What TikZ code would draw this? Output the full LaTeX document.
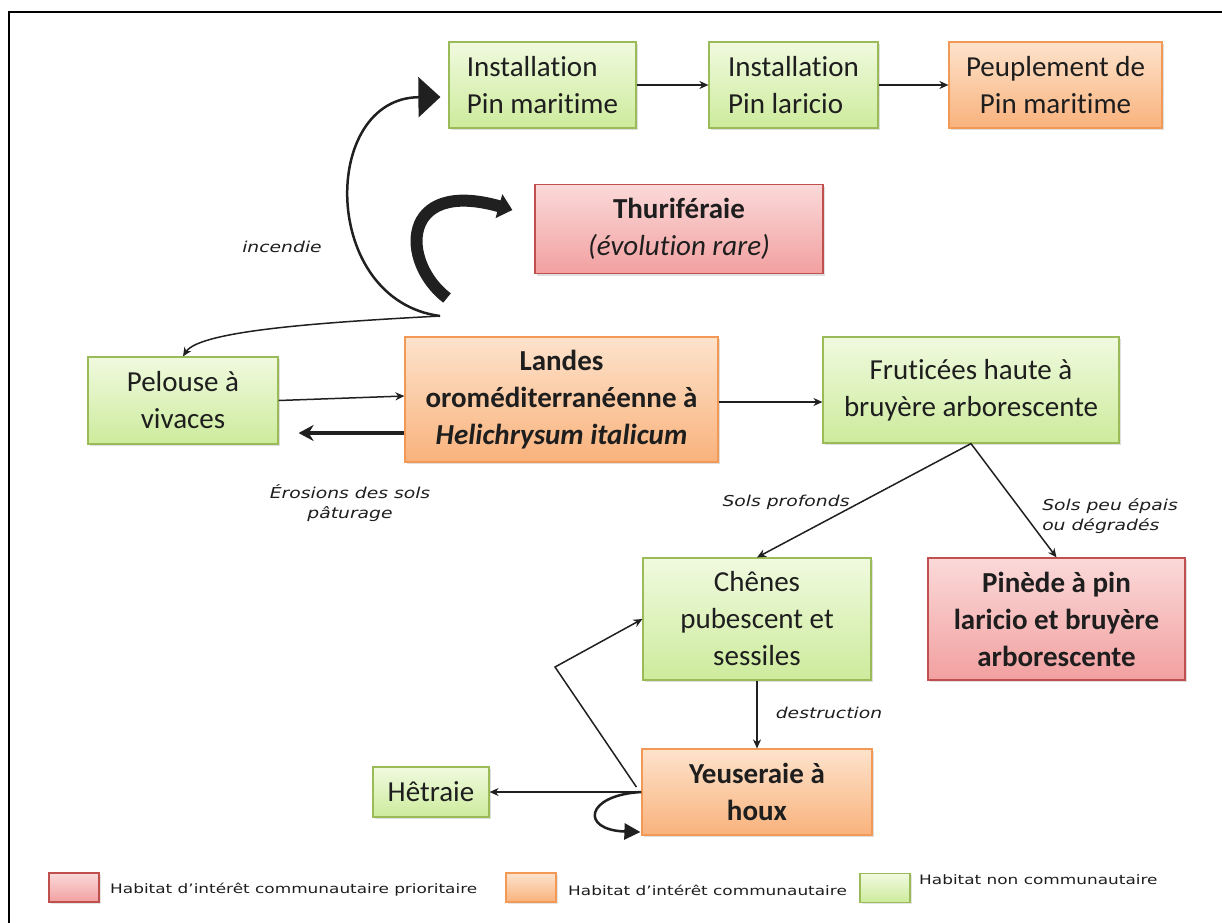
\documentclass[tikz,border=0pt]{standalone}
\usepackage{fontspec}
\setmainfont{Carlito}[Ligatures={NoCommon,NoRare,NoContextual}]
\newfontfamily\lblfont{DejaVu Sans}[FakeStretch=1.25]
\newfontfamily\legfont{DejaVu Sans}[FakeStretch=1.3]
\usetikzlibrary{arrows.meta,shadows,calc}
\definecolor{txt}{HTML}{1E1E1E}
\definecolor{gtop}{HTML}{F0FADF}
\definecolor{gbot}{HTML}{CDEB9C}
\definecolor{gbord}{HTML}{9BBB59}
\definecolor{otop}{HTML}{FDE3CC}
\definecolor{obot}{HTML}{F9B27C}
\definecolor{obord}{HTML}{F29A55}
\definecolor{rtop}{HTML}{FBD9D9}
\definecolor{rbot}{HTML}{F2A0A0}
\definecolor{rbord}{HTML}{C0504D}
\definecolor{arrc}{HTML}{202020}
\tikzset{
  box/.style={draw, line width=1.2pt, inner sep=4pt, text=txt, align=center,
    font=\fontsize{29}{37}\selectfont,
    drop shadow={opacity=0.25, shadow xshift=2pt, shadow yshift=-2pt}},
  gbox/.style={box, draw=gbord, top color=gtop, bottom color=gbot},
  obox/.style={box, draw=obord, top color=otop, bottom color=obot},
  rbox/.style={box, draw=rbord, top color=rtop, bottom color=rbot},
  arr/.style={draw=arrc, line width=1.5pt, -{Stealth[length=9pt,width=8pt]}},
  lbl/.style={font=\lblfont\itshape\fontsize{15}{20}\selectfont, text=txt, inner sep=0pt},
  leg/.style={font=\legfont\fontsize{13}{16}\selectfont, text=txt, inner sep=0pt, anchor=west},
  swatch/.style={minimum width=50pt, minimum height=29pt, inner sep=0pt, line width=1.5pt,
    drop shadow={opacity=0.2, shadow xshift=1.5pt, shadow yshift=-1.5pt}}
}
\begin{document}
\begin{tikzpicture}[x=1pt,y=-1pt]
\useasboundingbox (0,0) rectangle (1222,922);
\fill[white] (0,0) rectangle (1222,922);
\draw[line width=2pt] (9,925) -- (9,12) -- (1225,12);

% boxes
\node[gbox, align=left, minimum width=187pt, minimum height=86pt] (b1) at (542.5,85) {Installation\\Pin maritime};
\node[gbox, align=left, minimum width=169pt, minimum height=86pt] (b2) at (793.5,85) {Installation\\Pin laricio};
\node[obox, minimum width=213pt, minimum height=86pt] (b3) at (1055.5,85) {Peuplement de\\Pin maritime};
\node[rbox, minimum width=288pt, minimum height=89pt] (thur) at (679,229) {\bfseries Thuriféraie\\\itshape (évolution rare)};
\node[gbox, minimum width=190pt, minimum height=87pt] (pel) at (183,400.5) {Pelouse à\\vivaces};
\node[obox, minimum width=313pt, minimum height=125pt] (land) at (561.5,399.5) {\bfseries Landes\\\bfseries oroméditerranéenne à\\\bfseries\itshape Helichrysum italicum};
\node[gbox, minimum width=296pt, minimum height=106pt] (fru) at (971,390) {Fruticées haute à\\bruyère arborescente};
\node[gbox, minimum width=228pt, minimum height=122pt] (ch) at (757,619) {Chênes\\pubescent et\\sessiles};
\node[rbox, minimum width=257pt, minimum height=122pt] (pin) at (1056.5,619) {\bfseries Pinède à pin\\\bfseries laricio et bruyère\\\bfseries arborescente};
\node[obox, minimum width=230pt, minimum height=86pt] (yeu) at (757,792) {\bfseries Yeuseraie à\\\bfseries houx};
\node[gbox, minimum width=116pt, minimum height=50pt] (het) at (431,792) {Hêtraie};

% connectors
\draw[arr] (b1) -- (b2);
\draw[arr] (b2) -- (b3);
\coordinate (src) at (440,316);
\coordinate (csrc) at (447,298);
\draw[draw=arrc, line width=2.5pt, -{Triangle[length=22pt,width=40pt]}]
  (src) .. controls (320,300) and (320,98) .. ($(b1.west)+(-8,12)$);
\draw[draw=arrc, line width=12pt, -{Triangle[length=14pt,width=24pt]}]
  (csrc) .. controls (400,262) and (400,178) .. ($(thur.west)+(-22,-19)$);
\draw[arr] (src) .. controls (330,322) and (200,330) .. (pel.north);
\draw[arr] (pel.east) -- ($(land.west)+(0,-3.5)$);
\draw[draw=arrc, line width=4pt, -{Stealth[length=15pt,width=16pt]}]
  ($(land.west)+(0,33.5)$) -- ($(pel.east)+(20,32.5)$);
\draw[arr] ($(land.east)+(0,2.5)$) -- ($(fru.west)+(0,12)$);
\draw[arr] (fru.south) -- (ch.north);
\draw[arr] (fru.south) -- (pin.north);
\draw[arr] (ch.south) -- (yeu.north);
\draw[arr] (yeu.west) -- (het.east);
\coordinate (k) at (555,667);
\draw[arr] ($(yeu.west)+(-5,-5)$) -- (k) -- (ch.west);
\draw[draw=arrc, line width=2.5pt, -{Triangle[length=16pt,width=16pt]}]
  (yeu.west) .. controls (585,795) and (580,830) .. ($(yeu.west)+(-1,40)$);

% labels
\node[lbl] (l1) at (282,247) {incendie};
\node[lbl, align=center] (l2) at (350,503) {Érosions des sols\\pâturage};
\node[lbl] (l3) at (786,502) {Sols profonds};
\node[lbl, align=left] (l4) at (1110,516) {Sols peu épais\\ou dégradés};
\node[lbl] (l5) at (829,713) {destruction};

% legend
\node[swatch, draw=rbord, top color=rtop, bottom color=rbot] (sr) at (74,887.5) {};
\node[leg] (tr) at (110,890) {Habitat d’intérêt communautaire prioritaire};
\node[swatch, draw=obord, top color=otop, bottom color=obot] (so) at (531,887.5) {};
\node[leg] (to) at (568,890) {Habitat d’intérêt communautaire};
\node[swatch, draw=gbord, top color=gtop, bottom color=gbot] (sg) at (885,888) {};
\node[leg] (tg) at (919,880) {Habitat non communautaire};
\end{tikzpicture}
\end{document}
